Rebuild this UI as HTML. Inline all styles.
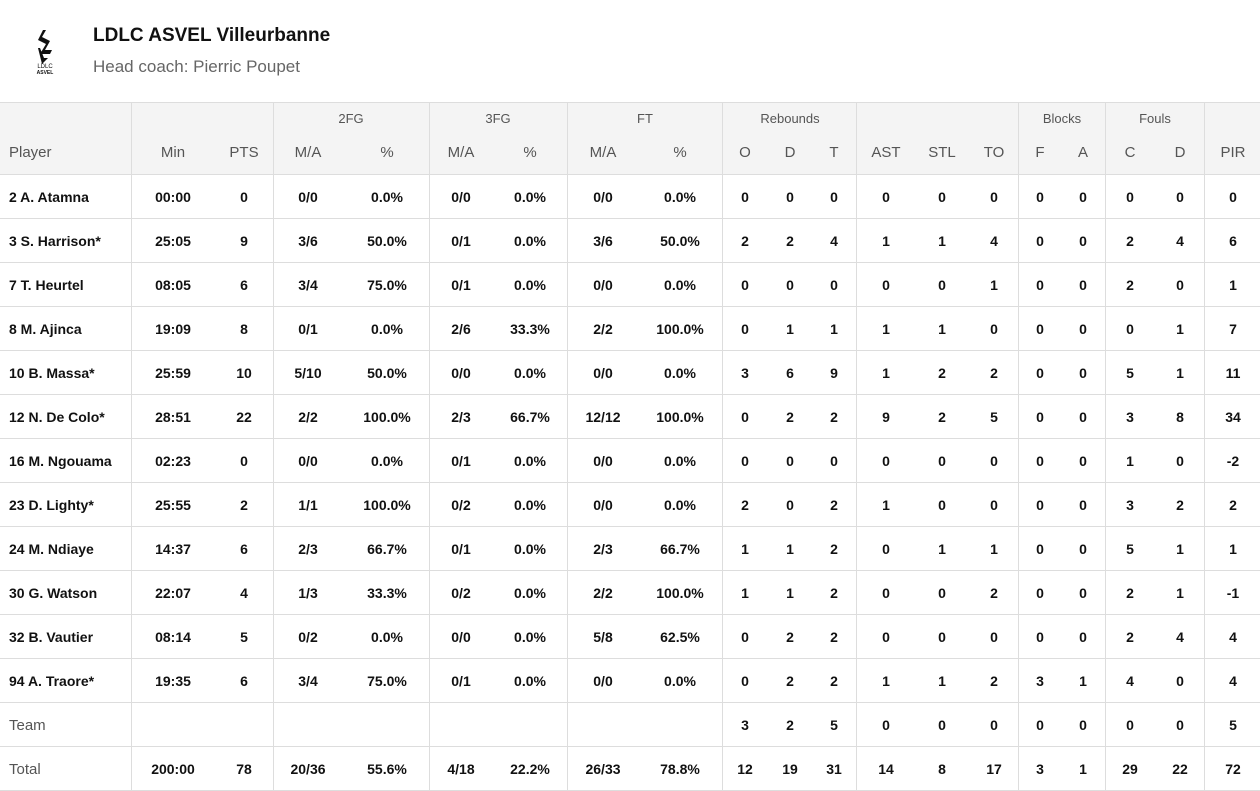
<!DOCTYPE html>
<html><head><meta charset="utf-8"><style>
body{margin:0;width:1260px;height:791px;background:#fff;font-family:"Liberation Sans",sans-serif;overflow:hidden;position:relative}
.a{position:absolute}
.hdr{background:#f4f4f4;left:0;top:102px;width:1260px;height:72px;border-top:1px solid #ddd}
.hl{position:absolute;left:0;width:1260px;height:1px;background:#ddd}
.vl{position:absolute;width:1px;background:#ddd}
.c{position:absolute;transform:translateX(-50%);white-space:nowrap}
.g{font-size:13px;color:#555;top:111px}
.s{font-size:15px;color:#555;top:144px}
.v{font-size:14px;font-weight:bold;color:#111}
.p{position:absolute;left:9px;font-size:14px;white-space:nowrap}
</style></head><body>
<svg class="a" style="left:30px;top:28px" width="30" height="48" viewBox="0 0 30 48">
<path d="M13 2 L8 12 L16 16 L10 26 L20 26 L22 22 L15 22 L20 13 L12 9 L16 2 Z" fill="#111"/>
<path d="M8 20 L10 20 L14 30 L18 30 L12 36 Z" fill="#111"/>
<text x="15" y="40" font-size="6" text-anchor="middle" font-family="Liberation Sans" fill="#111">LDLC</text>
<text x="15" y="46" font-size="5" text-anchor="middle" font-family="Liberation Sans" font-weight="bold" fill="#111">ASVEL</text>
</svg>
<div class="a" style="left:93px;top:25px;font-size:19px;font-weight:bold;color:#111">LDLC ASVEL Villeurbanne</div>
<div class="a" style="left:93px;top:57px;font-size:17px;color:#666">Head coach: Pierric Poupet</div>
<div class="a hdr"></div>
<div id="t"></div>
<script>
const players=["2 A. Atamna","3 S. Harrison*","7 T. Heurtel","8 M. Ajinca","10 B. Massa*","12 N. De Colo*","16 M. Ngouama","23 D. Lighty*","24 M. Ndiaye","30 G. Watson","32 B. Vautier","94 A. Traore*","Team","Total"];
const stats=[
["00:00","0","0/0","0.0%","0/0","0.0%","0/0","0.0%","0","0","0","0","0","0","0","0","0","0","0"],
["25:05","9","3/6","50.0%","0/1","0.0%","3/6","50.0%","2","2","4","1","1","4","0","0","2","4","6"],
["08:05","6","3/4","75.0%","0/1","0.0%","0/0","0.0%","0","0","0","0","0","1","0","0","2","0","1"],
["19:09","8","0/1","0.0%","2/6","33.3%","2/2","100.0%","0","1","1","1","1","0","0","0","0","1","7"],
["25:59","10","5/10","50.0%","0/0","0.0%","0/0","0.0%","3","6","9","1","2","2","0","0","5","1","11"],
["28:51","22","2/2","100.0%","2/3","66.7%","12/12","100.0%","0","2","2","9","2","5","0","0","3","8","34"],
["02:23","0","0/0","0.0%","0/1","0.0%","0/0","0.0%","0","0","0","0","0","0","0","0","1","0","-2"],
["25:55","2","1/1","100.0%","0/2","0.0%","0/0","0.0%","2","0","2","1","0","0","0","0","3","2","2"],
["14:37","6","2/3","66.7%","0/1","0.0%","2/3","66.7%","1","1","2","0","1","1","0","0","5","1","1"],
["22:07","4","1/3","33.3%","0/2","0.0%","2/2","100.0%","1","1","2","0","0","2","0","0","2","1","-1"],
["08:14","5","0/2","0.0%","0/0","0.0%","5/8","62.5%","0","2","2","0","0","0","0","0","2","4","4"],
["19:35","6","3/4","75.0%","0/1","0.0%","0/0","0.0%","0","2","2","1","1","2","3","1","4","0","4"],
["","","","","","","","","3","2","5","0","0","0","0","0","0","0","5"],
["200:00","78","20/36","55.6%","4/18","22.2%","26/33","78.8%","12","19","31","14","8","17","3","1","29","22","72"]];
const subs=["Min","PTS","M/A","%","M/A","%","M/A","%","O","D","T","AST","STL","TO","F","A","C","D","PIR"];
const groups=[["2FG",351],["3FG",498],["FT",645],["Rebounds",790],["Blocks",1062],["Fouls",1155]];
const cx=[173,244,308,387,461,530,603,680,745,790,834,886,942,994,1040,1083,1130,1180,1233];
const vlines=[131,273,429,567,722,856,1018,1105,1204];
const t=document.getElementById('t');
function add(cls,txt,style){const d=document.createElement('div');d.className=cls;d.textContent=txt;d.style.cssText=style;t.appendChild(d);return d;}
vlines.forEach(x=>{const d=add('vl','',`left:${x}px;top:102px;height:689px`);

});
for(let i=0;i<=14;i++){const d=add('hl','',`top:${174+i*44}px`);

}
groups.forEach(g=>{const d=add('c g',g[0],`left:${g[1]}px`);

});
const ph=add('p','Player','top:144px;color:#555;font-size:15px');


subs.forEach((s,j)=>{const d=add('c s',s,`left:${cx[j]}px`);

});
players.forEach((p,i)=>{const y=174+i*44+15;const plain=i>=12;
const d=add('p',p,`top:${y}px;color:${plain?'#555':'#111'};font-weight:${plain?'normal':'bold'};font-size:${plain?15:14}px`);


stats[i].forEach((v,j)=>{if(v==='')return;const c=add('c v',v,`left:${cx[j]}px;top:${y}px`);

});});
</script>
</body></html>
